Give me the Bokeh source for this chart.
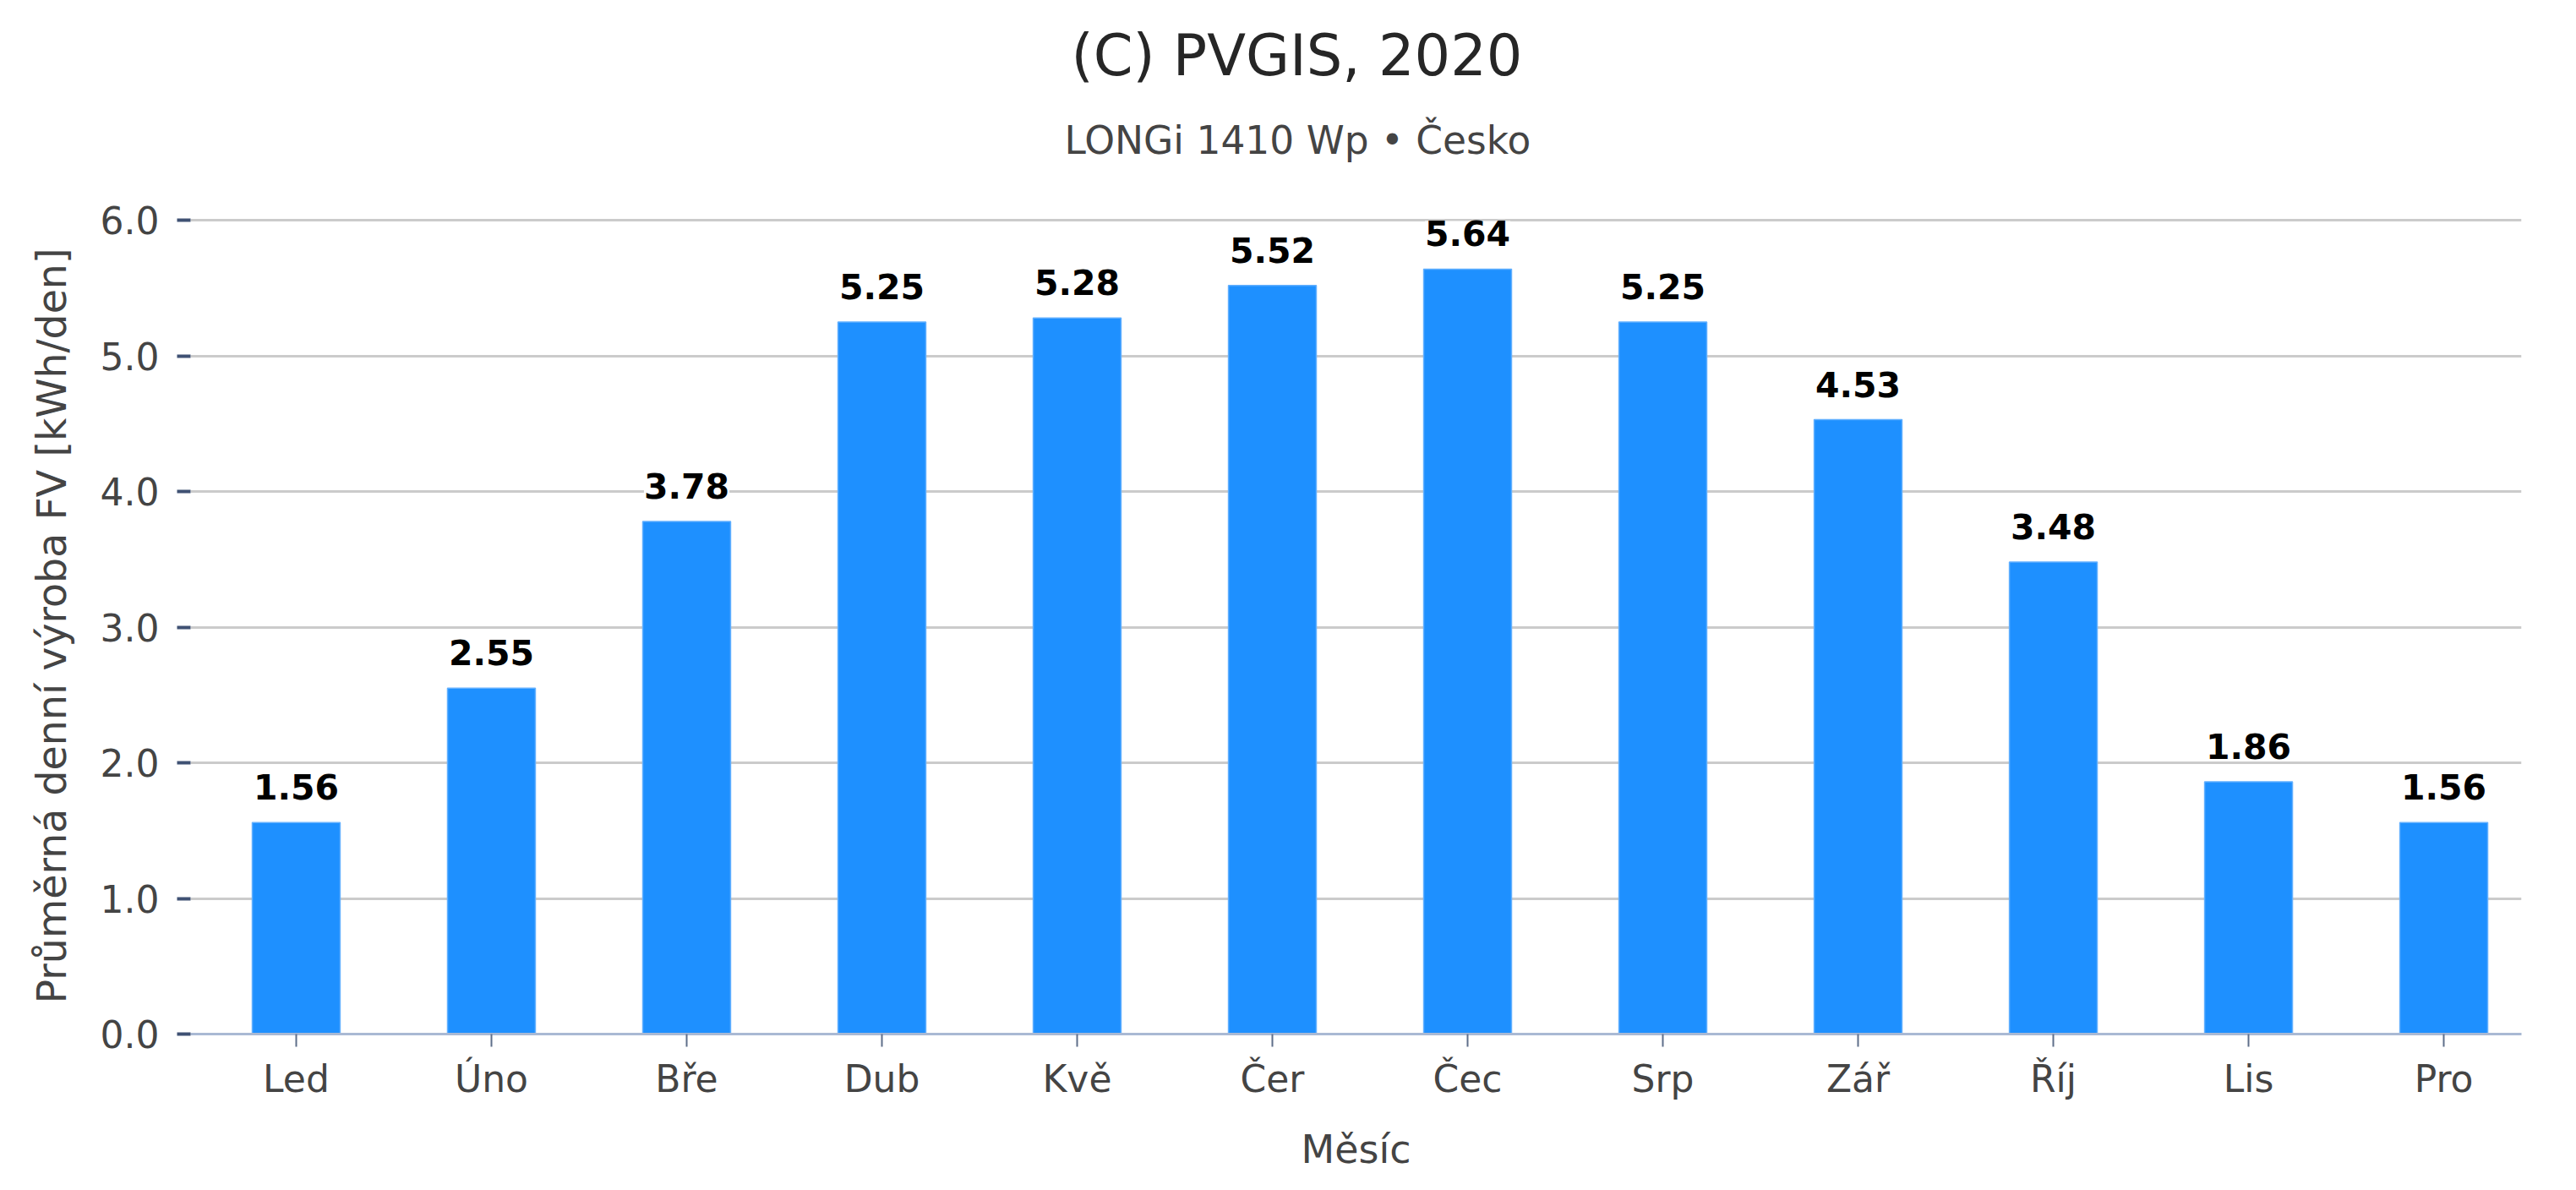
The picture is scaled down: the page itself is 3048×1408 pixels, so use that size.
from bokeh.plotting import figure
from bokeh.models import ColumnDataSource, LabelSet, Title, FixedTicker, Range1d
from bokeh.core.properties import value
from bokeh.embed import file_html
from bokeh.resources import INLINE

months = ["Led", "Úno", "Bře", "Dub", "Kvě", "Čer", "Čec", "Srp", "Zář", "Říj", "Lis", "Pro"]
values = [1.56, 2.55, 3.78, 5.25, 5.28, 5.52, 5.64, 5.25, 4.53, 3.48, 1.86, 1.56]
y_ticks = [0, 1, 2, 3, 4, 5, 6]
title_text = "(C) PVGIS, 2020"
subtitle_text = "LONGi 1410 Wp • Česko"
x_label = "Měsíc"
y_label = "Průměrná denní výroba FV [kWh/den]"

FONT = "DejaVu Sans"

idx = list(range(len(months)))
src = ColumnDataSource(dict(x=idx, top=values, lbl=[f"{v:.2f}" for v in values]))

p = figure(width=3030, height=1390, output_backend="svg", toolbar_location=None,
           x_range=Range1d(-0.541, 11.398), y_range=Range1d(0, 6.02),
           min_border_left=225, min_border_right=47, min_border_top=257, min_border_bottom=167,
           title=title_text)
p.outline_line_color = None
p.background_fill_color = "white"
p.border_fill_color = "white"

p.title.text_font = FONT
p.title.text_font_size = "67px"
p.title.text_font_style = "normal"
p.title.text_color = "#262626"
p.title.align = "left"
p.title.offset = 1042
p.title.standoff = 42

# spacer between the plot frame and the subtitle (added first: nearest the frame)
spacer = Title(text=" ", text_font=FONT, text_font_size="1px", standoff=49)
p.add_layout(spacer, "above")
sub = Title(text=subtitle_text, text_font=FONT, text_font_size="45.5px", text_font_style="normal",
            text_color="#444444", align="left", offset=1034, standoff=25)
p.add_layout(sub, "above")

p.vbar(x="x", top="top", bottom=0, width=0.45, source=src,
       fill_color="#1e90ff", line_color="#62b0ff", line_width=1.5)

# axes
p.xaxis.ticker = FixedTicker(ticks=idx)
p.xaxis.major_label_overrides = {i: m for i, m in zip(idx, months)}
p.xaxis.axis_line_color = "#a9b9d4"
p.xaxis.axis_line_width = 3
p.xaxis.major_tick_line_color = "#5f6f8a"
p.xaxis.major_tick_line_width = 2
p.xaxis.major_tick_out = 15
p.xaxis.major_tick_in = 0
p.xaxis.minor_tick_line_color = None
p.xaxis.major_label_standoff = 12
p.xaxis.major_label_text_font = FONT
p.xaxis.major_label_text_font_size = "44px"
p.xaxis.major_label_text_color = "#444444"
p.xaxis.axis_label = x_label
p.xaxis.axis_label_text_font = FONT
p.xaxis.axis_label_text_font_size = "46px"
p.xaxis.axis_label_text_font_style = "normal"
p.xaxis.axis_label_text_color = "#444444"
p.xaxis.axis_label_standoff = 28

p.yaxis.ticker = FixedTicker(ticks=y_ticks)
p.yaxis.major_label_overrides = {t: f"{t:.1f}" for t in y_ticks}
p.yaxis.axis_line_color = None
p.yaxis.major_tick_line_color = "#3f5173"
p.yaxis.major_tick_line_width = 4
p.yaxis.major_tick_out = 16
p.yaxis.major_tick_in = 0
p.yaxis.minor_tick_line_color = None
p.yaxis.major_label_standoff = 21
p.yaxis.major_label_text_font = FONT
p.yaxis.major_label_text_font_size = "44px"
p.yaxis.major_label_text_color = "#444444"
p.yaxis.axis_label = y_label
p.yaxis.axis_label_text_font = FONT
p.yaxis.axis_label_text_font_size = "47.5px"
p.yaxis.axis_label_text_font_style = "normal"
p.yaxis.axis_label_text_color = "#444444"
p.yaxis.axis_label_standoff = 27

p.xgrid.grid_line_color = None
p.ygrid.ticker = FixedTicker(ticks=y_ticks[1:])
p.ygrid.grid_line_color = "#cbcbcb"
p.ygrid.grid_line_width = 3

labels = LabelSet(x="x", y="top", text="lbl", source=src, y_offset=27,
                  text_align="center", text_baseline="alphabetic",
                  text_font=value(FONT), text_font_size=value("41px"), text_font_style=value("bold"),
                  text_color=value("black"), background_fill_color="white")
p.add_layout(labels)

open("out.html", "w").write(file_html(p, INLINE))
